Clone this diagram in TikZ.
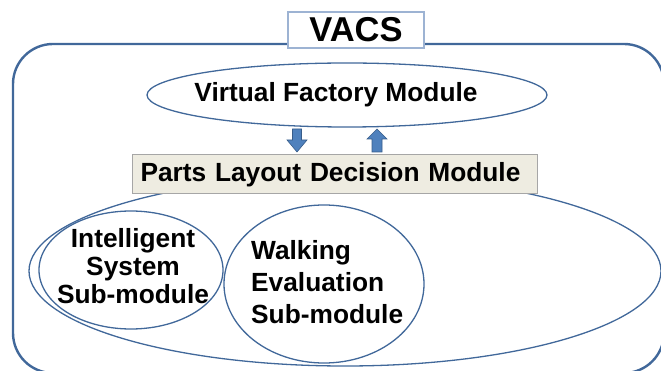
\documentclass[tikz,border=0pt]{standalone}
\usepackage{fontspec}
\setmainfont{Liberation Sans}
\usetikzlibrary{shapes.geometric}
\definecolor{lineblue}{HTML}{41689A}
\definecolor{arrowfill}{HTML}{4F81BD}
\definecolor{arrowline}{HTML}{385D8A}
\definecolor{boxfill}{HTML}{EEECE1}
\definecolor{boxline}{HTML}{A6A6A6}
\definecolor{vacsline}{HTML}{9DB3D3}
\tikzset{
  ell/.style={draw=lineblue, line width=1.3pt, fill=white},
  txt/.style={font=\bfseries\fontsize{26.3}{28}\selectfont, text=black},
  blockarrow/.style={fill=arrowfill, draw=arrowline, line width=0.6pt}
}
\begin{document}
\begin{tikzpicture}[x=1pt,y=-1pt]
\useasboundingbox (0,0) rectangle (661,371);
% outer rounded frame
\draw[draw=lineblue, line width=2.4pt, rounded corners=40pt] (13,44) rectangle (664,373);
% VACS label box
\node[draw=vacsline, line width=1.2pt, fill=white, minimum width=136pt, minimum height=36pt, inner sep=0pt,
      font=\bfseries\fontsize{34.5}{36}\selectfont] (vacs) at (356,30) {VACS};
% big ellipse (parts layout decision module region)
\node[draw=lineblue, line width=1.3pt, ellipse, minimum width=632pt, minimum height=190pt, inner sep=0pt] (region) at (345,271) {};
% parts layout box
\node[draw=boxline, line width=1pt, fill=boxfill, minimum width=405pt, minimum height=39pt, inner sep=0pt,
      txt, anchor=west, text width=389pt, align=left, inner xsep=8pt] (parts) at (132,174.5) {Parts Layout Decision Module};
% intelligent system ellipse
\node[ell, ellipse, minimum width=184pt, minimum height=118pt, inner sep=0pt] (intel) at (131,270) {};
\node[txt, align=center] (inteltxt) at (133,266) {Intelligent\\System\\Sub-module};
% walking evaluation ellipse
\node[ell, ellipse, minimum width=200pt, minimum height=158pt, inner sep=0pt] (walk) at (324,284) {};
\node[txt, align=left, anchor=north west, inner sep=0pt, font=\bfseries\fontsize{26.3}{32}\selectfont] (walktxt) at (251,240) {Walking\\Evaluation\\Sub-module};
% virtual factory ellipse
\node[ell, ellipse, minimum width=400pt, minimum height=64pt, inner sep=0pt] (vf) at (347,95) {};
\node[txt] (vftxt) at (336,95) {Virtual Factory Module};
% block arrows between virtual factory and parts layout
\draw[blockarrow] (292.5,129) -- (301.5,129) -- (301.5,140) -- (307,140) -- (297,152) -- (287,140) -- (292.5,140) -- cycle;
\draw[blockarrow] (372,152) -- (382,152) -- (382,139) -- (387,139) -- (377,129) -- (367,139) -- (372,139) -- cycle;
\end{tikzpicture}
\end{document}
